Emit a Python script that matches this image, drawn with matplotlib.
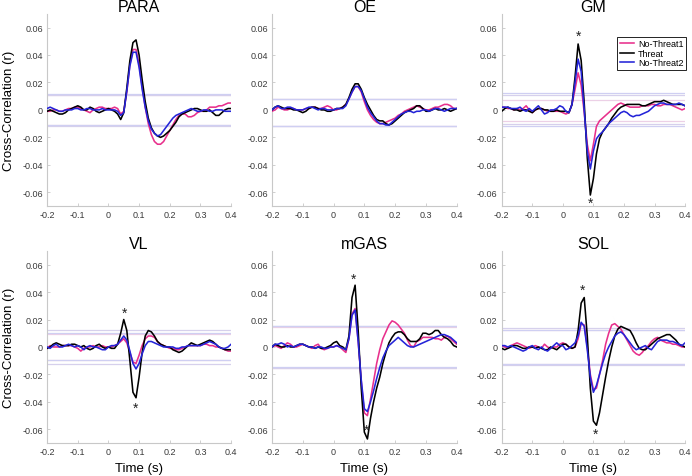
import numpy as np
import matplotlib
matplotlib.use("Agg")
import matplotlib.pyplot as plt

plt.rcParams['font.family'] = ['Liberation Sans', 'DejaVu Sans']

# === Data: cross-correlation (r) per muscle, lag -0.2..0.4 s in 0.01 s steps
lag = np.round(np.arange(-0.2, 0.4001, 0.01), 3)

muscles = ["PARA", "OE", "GM", "VL", "mGAS", "SOL"]

para_nt1 = [-0.001, -0.001, 0.000, 0.000, -0.001, -0.001, 0.000, 0.001, 0.001, 0.002,
            0.002, 0.001, 0.000, -0.001, -0.002, 0.000, 0.001, 0.002, 0.002, 0.001,
            0.001, 0.001, 0.002, 0.001, -0.003, -0.001, 0.013, 0.033, 0.044, 0.044,
            0.033, 0.017, 0.002, -0.010, -0.018, -0.023, -0.025, -0.025, -0.023, -0.019,
            -0.015, -0.011, -0.007, -0.004, -0.003, -0.003, -0.005, -0.005, -0.004, -0.002,
            -0.001, -0.001, 0.000, 0.002, 0.002, 0.002, 0.003, 0.003, 0.004, 0.005, 0.005]
para_thr = [-0.001, 0.000, -0.001, -0.002, -0.003, -0.003, -0.002, 0.000, 0.001, 0.002,
            0.003, 0.002, 0.000, 0.000, 0.002, 0.001, -0.001, -0.002, -0.001, 0.000,
            0.001, 0.000, -0.001, -0.003, -0.007, -0.002, 0.016, 0.036, 0.049, 0.051,
            0.040, 0.022, 0.006, -0.006, -0.013, -0.017, -0.019, -0.020, -0.019, -0.017,
            -0.015, -0.012, -0.009, -0.005, -0.003, -0.002, -0.001, 0.000, 0.001, 0.001,
            0.000, -0.001, -0.001, 0.000, -0.002, -0.004, -0.004, -0.002, 0.000, 0.001, 0.001]
para_nt2 = [0.001, 0.002, 0.001, 0.000, -0.001, -0.001, 0.000, 0.000, 0.000, 0.001,
            0.001, 0.000, 0.000, 0.001, 0.001, 0.000, 0.000, 0.000, 0.001, 0.000,
            0.000, 0.000, 0.000, -0.001, -0.004, -0.002, 0.014, 0.032, 0.042, 0.042,
            0.031, 0.015, 0.002, -0.008, -0.014, -0.017, -0.019, -0.018, -0.015, -0.012,
            -0.009, -0.006, -0.004, -0.003, -0.002, -0.001, 0.000, 0.001, 0.000, -0.001,
            -0.001, 0.000, 0.000, -0.001, -0.001, 0.000, 0.000, 0.000, -0.001, -0.001, -0.001]

oe_nt1 = [-0.001, 0.000, 0.002, 0.001, 0.000, 0.000, 0.001, 0.001, 0.000, 0.000,
          0.000, 0.001, 0.001, 0.002, 0.002, 0.001, 0.001, 0.002, 0.003, 0.002,
          0.000, 0.000, 0.001, 0.002, 0.004, 0.008, 0.013, 0.017, 0.017, 0.013,
          0.006, 0.000, -0.004, -0.007, -0.009, -0.010, -0.010, -0.009, -0.008, -0.007,
          -0.006, -0.004, -0.003, -0.001, 0.000, 0.001, 0.002, 0.003, 0.002, 0.001,
          0.000, 0.000, 0.001, 0.002, 0.002, 0.003, 0.004, 0.004, 0.003, 0.001, 0.001]
oe_thr = [0.000, 0.002, 0.003, 0.002, 0.001, 0.001, 0.001, 0.000, 0.000, -0.001,
          -0.002, -0.001, 0.001, 0.002, 0.002, 0.001, 0.000, 0.000, -0.001, -0.001,
          0.000, 0.001, 0.001, 0.002, 0.004, 0.009, 0.015, 0.019, 0.019, 0.015,
          0.009, 0.004, 0.000, -0.004, -0.007, -0.008, -0.008, -0.010, -0.011, -0.010,
          -0.008, -0.006, -0.004, -0.002, -0.001, 0.000, 0.001, 0.003, 0.003, 0.001,
          -0.001, -0.001, 0.000, 0.001, 0.000, 0.000, 0.001, 0.000, -0.001, 0.000, 0.001]
oe_nt2 = [0.000, 0.002, 0.003, 0.001, 0.001, 0.002, 0.002, 0.001, 0.000, 0.000,
          0.000, 0.001, 0.002, 0.002, 0.001, 0.000, 0.001, 0.001, 0.000, 0.000,
          0.000, 0.001, 0.001, 0.001, 0.003, 0.008, 0.013, 0.017, 0.017, 0.014,
          0.008, 0.002, -0.002, -0.005, -0.008, -0.010, -0.010, -0.011, -0.011, -0.009,
          -0.007, -0.005, -0.003, -0.002, -0.001, -0.001, -0.002, -0.001, -0.001, 0.000,
          0.000, -0.001, 0.000, 0.001, 0.001, 0.000, -0.001, 0.000, 0.001, 0.001, 0.001]

gm_nt1 = [0.002, 0.002, 0.001, 0.001, 0.000, 0.001, 0.000, 0.001, 0.003, 0.000,
          -0.002, 0.000, 0.001, 0.001, 0.000, -0.001, -0.001, -0.001, -0.001, -0.001,
          -0.002, -0.003, -0.002, 0.004, 0.015, 0.027, 0.018, -0.002, -0.025, -0.037,
          -0.025, -0.012, -0.008, -0.006, -0.004, -0.002, 0.000, 0.002, 0.004, 0.005,
          0.004, 0.003, 0.002, 0.002, 0.002, 0.002, 0.003, 0.003, 0.003, 0.004,
          0.004, 0.003, 0.003, 0.004, 0.004, 0.004, 0.003, 0.002, 0.001, 0.000, 0.001]
gm_thr = [-0.001, 0.001, 0.002, 0.001, 0.000, 0.000, -0.001, 0.000, 0.000, -0.001,
          -0.002, 0.000, 0.001, 0.001, 0.000, 0.000, -0.001, -0.001, 0.000, -0.001,
          -0.001, -0.001, -0.002, 0.004, 0.024, 0.048, 0.036, 0.005, -0.035, -0.062,
          -0.050, -0.032, -0.021, -0.016, -0.013, -0.010, -0.006, -0.003, 0.000, 0.002,
          0.003, 0.004, 0.004, 0.004, 0.004, 0.004, 0.003, 0.003, 0.004, 0.005,
          0.006, 0.006, 0.006, 0.007, 0.006, 0.005, 0.004, 0.004, 0.004, 0.004, 0.003]
gm_nt2 = [0.002, 0.002, 0.002, 0.001, 0.001, 0.001, 0.002, 0.000, -0.001, 0.001,
          -0.001, 0.001, 0.003, 0.000, -0.003, -0.002, 0.000, 0.000, 0.001, 0.003,
          0.002, -0.001, -0.002, 0.004, 0.020, 0.037, 0.028, 0.000, -0.030, -0.043,
          -0.030, -0.021, -0.018, -0.016, -0.013, -0.010, -0.008, -0.006, -0.004, -0.002,
          -0.001, -0.002, -0.004, -0.005, -0.004, -0.004, -0.003, -0.002, -0.001, 0.001,
          0.003, 0.004, 0.005, 0.005, 0.004, 0.004, 0.004, 0.004, 0.005, 0.004, 0.003]

vl_nt1 = [-0.001, 0.001, 0.000, 0.000, 0.000, 0.001, 0.001, 0.001, 0.001, 0.000,
          -0.001, -0.003, -0.001, 0.000, 0.000, 0.001, 0.000, 0.000, 0.001, 0.000,
          0.000, 0.000, 0.001, 0.002, 0.004, 0.006, 0.003, -0.004, -0.011, -0.012,
          -0.006, 0.001, 0.006, 0.008, 0.008, 0.007, 0.004, 0.002, 0.001, 0.000,
          -0.001, -0.001, -0.002, -0.002, -0.001, 0.000, 0.001, 0.001, 0.001, 0.001,
          0.001, 0.002, 0.002, 0.001, 0.001, 0.000, 0.000, -0.001, -0.002, -0.003, -0.003]
vl_thr = [-0.001, 0.000, 0.002, 0.003, 0.002, 0.001, 0.001, 0.001, 0.002, 0.002,
          0.001, 0.000, 0.001, -0.001, -0.002, -0.001, 0.001, 0.002, 0.000, -0.001,
          0.000, -0.001, -0.001, 0.002, 0.010, 0.020, 0.012, -0.010, -0.033, -0.037,
          -0.022, -0.004, 0.008, 0.012, 0.011, 0.008, 0.004, 0.002, 0.001, 0.000,
          0.000, -0.002, -0.003, -0.004, -0.003, -0.001, 0.001, 0.003, 0.002, 0.001,
          0.002, 0.003, 0.004, 0.005, 0.004, 0.002, 0.000, -0.001, -0.002, -0.002, -0.002]
vl_nt2 = [0.000, -0.001, 0.001, 0.002, 0.000, 0.000, 0.001, 0.002, 0.001, 0.000,
          0.001, 0.000, -0.002, 0.000, 0.001, 0.000, 0.000, -0.001, -0.002, -0.002,
          0.000, 0.001, 0.001, 0.002, 0.005, 0.008, 0.005, -0.003, -0.012, -0.016,
          -0.012, -0.005, 0.001, 0.004, 0.004, 0.003, 0.002, 0.001, 0.000, 0.000,
          0.000, 0.000, -0.001, -0.001, 0.000, 0.000, 0.001, 0.001, 0.001, 0.001,
          0.001, 0.002, 0.003, 0.004, 0.003, 0.002, 0.000, -0.001, -0.001, 0.000, 0.002]

mgas_nt1 = [0.000, 0.001, 0.000, -0.001, 0.001, 0.003, 0.002, 0.000, 0.000, 0.001,
            0.002, 0.001, 0.000, -0.001, 0.001, 0.002, -0.001, -0.002, -0.001, 0.000,
            0.000, 0.001, 0.000, -0.002, -0.004, 0.006, 0.024, 0.028, 0.004, -0.025,
            -0.048, -0.050, -0.038, -0.025, -0.012, -0.002, 0.006, 0.011, 0.016, 0.019,
            0.018, 0.016, 0.013, 0.010, 0.005, 0.001, 0.000, 0.004, 0.005, 0.007,
            0.007, 0.007, 0.007, 0.006, 0.006, 0.005, 0.007, 0.008, 0.006, 0.004, 0.002]
mgas_thr = [0.000, 0.002, 0.001, 0.000, 0.000, 0.001, 0.000, 0.000, 0.001, 0.002,
            0.002, 0.001, 0.000, 0.000, -0.001, 0.000, -0.001, -0.001, 0.000, 0.001,
            0.003, 0.004, 0.001, 0.000, -0.002, 0.008, 0.036, 0.045, 0.012, -0.030,
            -0.062, -0.067, -0.052, -0.040, -0.030, -0.022, -0.012, -0.004, 0.003, 0.007,
            0.010, 0.011, 0.011, 0.009, 0.006, 0.004, 0.004, 0.004, 0.006, 0.010,
            0.010, 0.009, 0.010, 0.012, 0.012, 0.009, 0.007, 0.006, 0.004, 0.001, 0.000]
mgas_nt2 = [0.000, 0.002, 0.002, 0.003, 0.002, 0.000, 0.001, 0.000, 0.001, 0.002,
            0.002, 0.001, 0.000, 0.000, -0.001, 0.000, 0.000, -0.001, -0.001, 0.000,
            0.000, 0.001, 0.000, -0.001, -0.002, 0.006, 0.023, 0.027, 0.004, -0.024,
            -0.045, -0.047, -0.040, -0.032, -0.023, -0.015, -0.008, -0.003, 0.001, 0.003,
            0.005, 0.007, 0.005, 0.003, 0.001, 0.000, 0.000, 0.001, 0.002, 0.003,
            0.004, 0.005, 0.006, 0.007, 0.008, 0.009, 0.009, 0.008, 0.007, 0.005, 0.003]

sol_nt1 = [0.001, 0.000, -0.001, 0.001, 0.002, 0.003, 0.002, 0.001, 0.000, -0.001,
           0.000, 0.001, 0.000, -0.001, 0.002, 0.000, -0.001, 0.000, 0.000, 0.002,
           0.003, 0.002, 0.000, -0.001, 0.000, 0.006, 0.017, 0.016, 0.000, -0.020,
           -0.031, -0.030, -0.020, -0.010, 0.002, 0.010, 0.016, 0.017, 0.015, 0.013,
           0.009, 0.005, 0.001, -0.003, -0.005, -0.006, -0.004, -0.001, 0.001, 0.004,
           0.006, 0.007, 0.005, 0.004, 0.003, 0.003, 0.002, 0.002, 0.001, 0.000, 0.000]
sol_thr = [-0.001, -0.002, -0.001, 0.000, 0.001, 0.001, 0.000, -0.001, -0.001, 0.000,
           0.000, -0.001, 0.000, -0.001, -0.002, -0.002, 0.000, -0.001, -0.002, 0.000,
           0.002, 0.002, 0.000, -0.001, 0.000, 0.012, 0.032, 0.036, 0.008, -0.030,
           -0.054, -0.057, -0.048, -0.035, -0.022, -0.010, 0.000, 0.008, 0.013, 0.015,
           0.014, 0.013, 0.012, 0.008, 0.003, -0.001, -0.002, -0.002, 0.000, 0.002,
           0.004, 0.006, 0.007, 0.008, 0.009, 0.009, 0.007, 0.005, 0.002, 0.001, 0.000]
sol_nt2 = [0.001, 0.001, 0.000, 0.001, 0.000, -0.001, -0.002, -0.003, -0.002, 0.000,
           0.001, -0.001, -0.002, 0.000, -0.002, -0.003, -0.001, 0.001, 0.003, 0.001,
           0.001, -0.002, -0.001, 0.001, 0.003, 0.008, 0.018, 0.015, -0.002, -0.022,
           -0.033, -0.028, -0.020, -0.012, -0.005, 0.000, 0.004, 0.008, 0.010, 0.011,
           0.009, 0.006, 0.003, 0.000, -0.002, -0.001, 0.000, 0.001, -0.001, -0.002,
           0.001, 0.004, 0.005, 0.005, 0.005, 0.004, 0.004, 0.003, 0.002, 0.001, 0.003]

# significance thresholds (upper, lower) per condition: NT1, Threat, NT2
thresholds = {
    "PARA": [(0.0112, -0.0112), (0.0110, -0.0115), (0.0113, -0.0110)],
    "OE":   [(0.0078, -0.0117), (0.0079, -0.0118), (0.0078, -0.0116)],
    "GM":   [(0.0075, -0.0078), (0.0105, -0.0104), (0.0120, -0.0119)],
    "VL":   [(0.0098, -0.0093), (0.0120, -0.0121), (0.0100, -0.0095)],
    "mGAS": [(0.0149, -0.0150), (0.0151, -0.0152), (0.0150, -0.0149)],
    "SOL":  [(0.0124, -0.0122), (0.0139, -0.0130), (0.0126, -0.0124)],
}

# asterisk positions (lag, r)
stars = {
    "GM":   [(0.052, 0.054), (0.090, -0.068)],
    "VL":   [(0.052, 0.025), (0.088, -0.044)],
    "mGAS": [(0.066, 0.050), (0.107, -0.060)],
    "SOL":  [(0.066, 0.042), (0.107, -0.063)],
}

series = {
    "PARA": (para_nt1, para_thr, para_nt2),
    "OE": (oe_nt1, oe_thr, oe_nt2),
    "GM": (gm_nt1, gm_thr, gm_nt2),
    "VL": (vl_nt1, vl_thr, vl_nt2),
    "mGAS": (mgas_nt1, mgas_thr, mgas_nt2),
    "SOL": (sol_nt1, sol_thr, sol_nt2),
}

labels = ["No-Threat1", "Threat", "No-Threat2"]
colors = ["#e8308c", "black", "#2424d8"]
thr_colors = ["#ecd0e6", "#d6d0ec", "#cfcff2"]

# === Layout
fig = plt.figure(figsize=(6.92, 4.77), dpi=100)
lefts = [0.068, 0.393, 0.725]
widths = [0.266, 0.267, 0.265]
bottoms = [0.566, 0.069]
height = 0.403

yticks = [-0.06, -0.04, -0.02, 0, 0.02, 0.04, 0.06]
ytick_labels = ["-0.06", "-0.04", "-0.02", "0", "0.02", "0.04", "0.06"]
xticks = [-0.2, -0.1, 0, 0.1, 0.2, 0.3, 0.4]
xtick_labels = ["-0.2", "-0.1", "0", "0.1", "0.2", "0.3", "0.4"]

for k, m in enumerate(muscles):
    row, col = divmod(k, 3)
    ax = fig.add_axes([lefts[col], bottoms[row], widths[col], height])

    for (up, lo), c in zip(thresholds[m], thr_colors):
        ax.axhline(up, color=c, lw=0.9, zorder=1)
        ax.axhline(lo, color=c, lw=0.9, zorder=1)

    for vals, c, lab in zip(series[m], colors, labels):
        ax.plot(lag, vals, color=c, lw=1.15, label=lab, zorder=3)

    for sx, sy in stars.get(m, []):
        ax.text(sx, sy, "*", ha="center", va="center", fontsize=10, color="#222222")

    ax.set_xlim(-0.2, 0.4)
    ax.set_ylim(-0.07, 0.07)
    ax.set_xticks(xticks)
    ax.set_xticklabels(xtick_labels)
    ax.set_yticks(yticks)
    ax.set_yticklabels(ytick_labels)
    ax.tick_params(direction="in", length=2, width=0.6, color="#c8c8c8",
                   labelsize=6.5, labelcolor="#3a3a3a", pad=3)
    for s in ["top", "right"]:
        ax.spines[s].set_visible(False)
    for s in ["left", "bottom"]:
        ax.spines[s].set_color("#c8c8c8")
        ax.spines[s].set_linewidth(0.8)

    ax.set_title(m, fontsize=11.5, pad=1)
    if col == 0:
        ax.set_ylabel("Cross-Correlation (r)", fontsize=9.5, labelpad=5)
    if row == 1:
        ax.set_xlabel("Time (s)", fontsize=9.5, labelpad=4)

    if m == "GM":
        leg = ax.legend(loc="upper right", bbox_to_anchor=(1.03, 0.905), fontsize=6.5,
                        handlelength=1.6, handletextpad=0.4, borderpad=0.3,
                        labelspacing=0.05, fancybox=False, framealpha=1)
        leg.get_frame().set_edgecolor("black")
        leg.get_frame().set_linewidth(0.6)

fig.savefig("out.png", dpi=100)
